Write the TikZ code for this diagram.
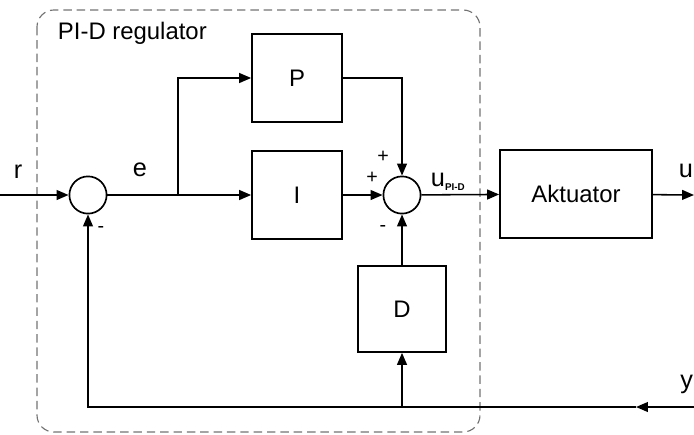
\documentclass[tikz,border=0pt]{standalone}
\usepackage{fontspec}
\setmainfont{Liberation Sans}
\usetikzlibrary{arrows.meta}
\tikzset{blok/.style={draw, line width=1.2pt, minimum width=2.25cm, minimum height=2.2cm, font=\fontsize{17}{20}\selectfont},
         sumc/.style={draw, circle, line width=1.2pt, minimum size=0.93cm, inner sep=0pt},
         sig/.style={line width=1.1pt, -{Triangle[length=8.5pt,width=7pt]}},
         lbl/.style={font=\fontsize{18}{20}\selectfont},
         sgn/.style={font=\fontsize{14}{15}\selectfont}}
\begin{document}
\begin{tikzpicture}[x=0.025cm, y=-0.025cm]
\useasboundingbox (0,0) rectangle (694,434);
% regulator frame
\draw [gray!90!black, line width=0.8pt, dash pattern=on 6pt off 3.5pt, rounded corners=12pt] (37,10) rectangle (480,432);
\node [anchor=west, font=\fontsize{17}{20}\selectfont] (reg) at (53,33) {PI-D regulator};
% blocks
\node [sumc] (s1) at (88,195) {};
\node [blok] (P) at (297,78) {P};
\node [blok] (I) at (297,195) {I};
\node [sumc] (s2) at (402,195) {};
\node [blok, minimum width=2.2cm, minimum height=2.15cm] (D) at (402,309) {D};
\node [blok, minimum width=3.8cm] (akt) at (576,194) {Aktuator};
% free ends
\coordinate (in) at (0,195);
\coordinate (br) at (178,195);
\coordinate (out) at (694,195);
\coordinate (yin) at (694,407);
\coordinate (ymid) at (636,407);
\coordinate (fbL) at (88,407);
\coordinate (fbD) at (402,407);
% signals
\draw [sig] (in) -- (s1);
\draw [sig] (s1) -- (I);
\draw [sig] (br) |- (P);
\draw [sig] (I) -- (s2);
\draw [sig] (P) -| (s2);
\draw [sig] (D) -- (s2);
\draw [sig] (s2) -- (akt);
\draw [sig] (akt) -- (out);
\draw [sig] (yin) -- (ymid);
\draw [sig] (ymid) -- (fbL) -- (s1);
\draw [sig] (fbD) -- (D);
% labels
\node [lbl] (r) at (18,172) {r};
\node [lbl] (e) at (140,170) {e};
\node [sgn] (p1) at (383,157) {+};
\node [sgn] (p2) at (372,178) {+};
\node [sgn] (m1) at (383,228) {-};
\node [sgn] (m2) at (101,229) {-};
\node [lbl, anchor=base west] (u) at (426,186) {u\raisebox{-3pt}{\fontsize{7}{8}\selectfont\bfseries PI-D}};
\node [lbl, anchor=east, inner sep=0.5pt] (uo) at (694,171) {u};
\node [lbl, anchor=east, inner sep=0.5pt] (y) at (694,384) {y};
\end{tikzpicture}
\end{document}
